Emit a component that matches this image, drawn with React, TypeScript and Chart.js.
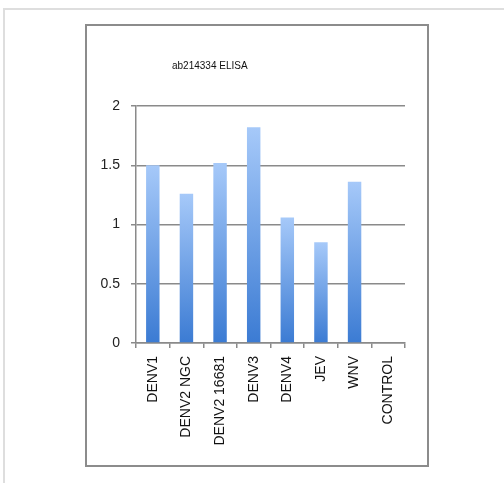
import React, { useEffect, useRef } from "react";
import { Chart, registerables } from "chart.js";

Chart.register(...registerables);

const categories = ["DENV1", "DENV2 NGC", "DENV2 16681", "DENV3", "DENV4", "JEV", "WNV", "CONTROL"];
const values = [1.5, 1.26, 1.52, 1.82, 1.06, 0.85, 1.36, 0];
const titleText = "ab214334 ELISA";
const yMin = 0;
const yMax = 2;
const yStep = 0.5;

const FONT = "'Liberation Sans', Arial, sans-serif";

export default function App() {
  const ref = useRef<HTMLCanvasElement | null>(null);

  useEffect(() => {
    const canvas = ref.current;
    if (!canvas) return;
    const titlePlugin = {
      id: "customTitle",
      afterDraw(chart: any) {
        const ctx = chart.ctx;
        ctx.save();
        ctx.font = `10px ${FONT}`;
        ctx.fillStyle = "#111";
        ctx.textAlign = "left";
        ctx.textBaseline = "alphabetic";
        ctx.fillText(titleText, 172, 69);
        ctx.restore();
      },
    };
    const chart = new Chart(canvas, {
      type: "bar",
      data: {
        labels: categories,
        datasets: [
          {
            data: values,
            backgroundColor: (ctx: any) => {
              const c = ctx.chart;
              const ys = c.scales?.y;
              if (!ys || ctx.parsed == null) return "#6a9fe6";
              const top = ys.getPixelForValue(ctx.parsed.y);
              const base = ys.getPixelForValue(0);
              if (!isFinite(top) || !isFinite(base) || top === base) return "#6a9fe6";
              const g = c.ctx.createLinearGradient(0, top, 0, base);
              g.addColorStop(0, "#a6c9f9");
              g.addColorStop(1, "#3b7bd3");
              return g;
            },
            borderWidth: 0,
            categoryPercentage: 1,
            barPercentage: 0.4,
          },
        ],
      },
      options: {
        responsive: false,
        animation: false,
        devicePixelRatio: 1,
        layout: { padding: { left: 0, top: 106, right: 99, bottom: 0 } },
        plugins: {
          legend: { display: false },
          title: { display: false },
          tooltip: { enabled: false },
        },
        scales: {
          x: {
            afterFit: (s: any) => {
              s.height = 140;
            },
            grid: {
              display: true,
              drawOnChartArea: false,
              drawTicks: true,
              tickLength: 5,
              color: "#8a8a8a",
              lineWidth: 1.5,
              offset: true,
            },
            border: { display: true, color: "#8a8a8a", width: 1.5 },
            ticks: {
              minRotation: 90,
              maxRotation: 90,
              autoSkip: false,
              padding: 8,
              color: "#111",
              font: { family: FONT, size: 14 },
            },
          },
          y: {
            min: yMin,
            max: yMax,
            afterFit: (s: any) => {
              s.width = 136;
            },
            grid: {
              color: "#8a8a8a",
              lineWidth: 1.5,
              drawTicks: true,
              tickLength: 5,
            },
            border: { display: true, color: "#8a8a8a", width: 1.5 },
            ticks: {
              stepSize: yStep,
              padding: 11,
              color: "#222",
              font: { family: FONT, size: 14 },
              callback: (v: any) => String(Number(v)),
            },
          },
        },
      },
      plugins: [titlePlugin],
    } as any);
    return () => chart.destroy();
  }, []);

  return (
    <div>
      <div
        style={{
          position: "absolute",
          left: 3,
          top: 8,
          width: 501,
          height: 475,
          borderLeft: "2px solid #dedede",
          borderTop: "2px solid #dedede",
          boxSizing: "border-box",
        }}
      />
      <div
        style={{
          position: "absolute",
          left: 85,
          top: 24,
          width: 344,
          height: 443,
          border: "2px solid #8c8c8c",
          boxSizing: "border-box",
          background: "#fff",
        }}
      />
      <canvas
        ref={ref}
        width={504}
        height={483}
        style={{ position: "absolute", left: 0, top: 0, width: 504, height: 483 }}
      />
    </div>
  );
}
